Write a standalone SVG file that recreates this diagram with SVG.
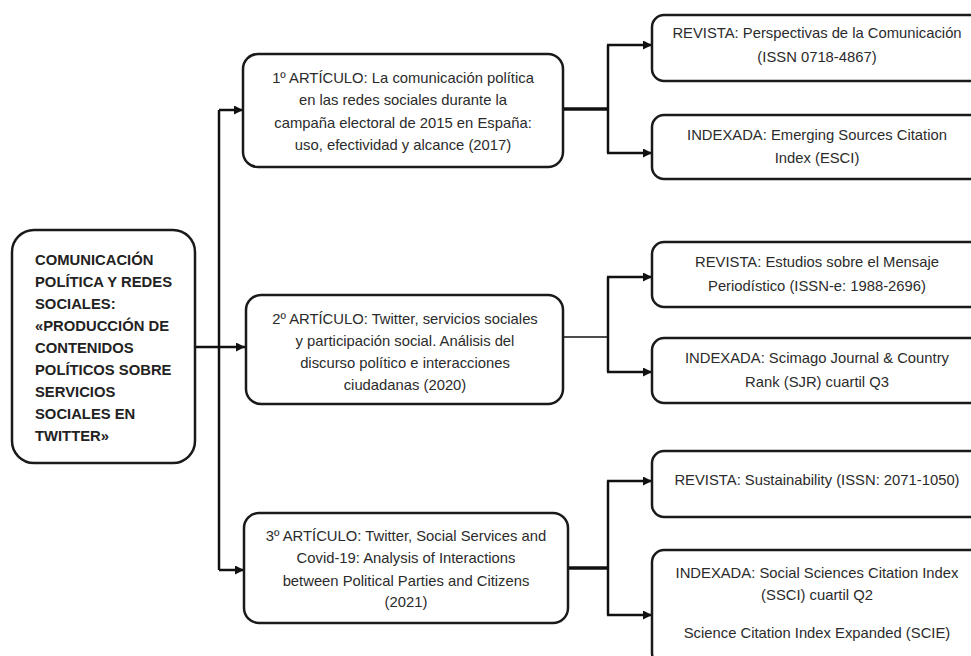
<svg xmlns="http://www.w3.org/2000/svg" width="971" height="656" viewBox="0 0 971 656">
<style>
.box{fill:#fff;stroke:#1a1a1a;stroke-width:2.5}
.t{font-family:"Liberation Sans",Arial,sans-serif;font-size:14.8px;fill:#2b2b2b;text-anchor:middle}
.b{font-family:"Liberation Sans",Arial,sans-serif;font-size:14.8px;font-weight:bold;fill:#222}
.c{fill:none;stroke:#111;stroke-width:2.5}
.ck{fill:none;stroke:#111;stroke-width:3.5}
.cn{fill:none;stroke:#111;stroke-width:1.5}
</style>
<defs>
<marker id="ah" viewBox="0 0 10 10" refX="10" refY="5" markerWidth="10" markerHeight="9" markerUnits="userSpaceOnUse" orient="auto">
<path d="M0,0 L10,5 L0,10 z" fill="#111"/>
</marker>
</defs>
<rect width="971" height="656" fill="#fff"/>
<g id="connectors">
<path class="c" d="M195,347 H245" marker-end="url(#ah)"/>
<path class="c" d="M219,110 V570"/>
<path class="c" d="M219,110 H243" marker-end="url(#ah)"/>
<path class="c" d="M219,570 H244" marker-end="url(#ah)"/>
<path class="ck" d="M563,109 H608"/>
<path class="c" d="M608,45 V153"/>
<path class="c" d="M607,45 H652" marker-end="url(#ah)"/>
<path class="c" d="M607,153 H652" marker-end="url(#ah)"/>
<path class="cn" d="M563,337 H608"/>
<path class="c" d="M608,277 V372"/>
<path class="c" d="M607,277 H652" marker-end="url(#ah)"/>
<path class="c" d="M607,372 H652" marker-end="url(#ah)"/>
<path class="ck" d="M568,568 H608"/>
<path class="c" d="M608,481 V615"/>
<path class="c" d="M607,481 H652" marker-end="url(#ah)"/>
<path class="c" d="M607,615 H652" marker-end="url(#ah)"/>
</g>
<g id="main">
<rect class="box" x="12" y="230" width="183" height="233" rx="22"/>
<text class="b" x="35" y="265">COMUNICACIÓN</text>
<text class="b" x="35" y="287">POLÍTICA Y REDES</text>
<text class="b" x="35" y="309">SOCIALES:</text>
<text class="b" x="35" y="331">«PRODUCCIÓN DE</text>
<text class="b" x="35" y="353">CONTENIDOS</text>
<text class="b" x="35" y="375">POLÍTICOS SOBRE</text>
<text class="b" x="35" y="397">SERVICIOS</text>
<text class="b" x="35" y="419">SOCIALES EN</text>
<text class="b" x="35" y="441">TWITTER»</text>
</g>
<g id="art1">
<rect class="box" x="243" y="54" width="320" height="113" rx="15"/>
<text class="t" x="403" y="83">1º ARTÍCULO: La comunicación política</text>
<text class="t" x="403" y="105">en las redes sociales durante la</text>
<text class="t" x="403" y="128">campaña electoral de 2015 en España:</text>
<text class="t" x="403" y="150">uso, efectividad y alcance (2017)</text>
</g>
<g id="art2">
<rect class="box" x="246" y="295" width="317" height="109" rx="15"/>
<text class="t" x="405" y="324">2º ARTÍCULO: Twitter, servicios sociales</text>
<text class="t" x="405" y="346">y participación social. Análisis del</text>
<text class="t" x="405" y="368">discurso político e interacciones</text>
<text class="t" x="405" y="390">ciudadanas (2020)</text>
</g>
<g id="art3">
<rect class="box" x="244" y="513" width="324" height="110" rx="15"/>
<text class="t" x="406" y="541">3º ARTÍCULO: Twitter, Social Services and</text>
<text class="t" x="406" y="563">Covid-19: Analysis of Interactions</text>
<text class="t" x="406" y="586">between Political Parties and Citizens</text>
<text class="t" x="406" y="607">(2021)</text>
</g>
<g id="rev1">
<rect class="box" x="652" y="15" width="340" height="66" rx="12"/>
<text class="t" x="817" y="38">REVISTA: Perspectivas de la Comunicación</text>
<text class="t" x="817" y="62">(ISSN 0718-4867)</text>
</g>
<g id="idx1">
<rect class="box" x="652" y="115" width="340" height="64" rx="12"/>
<text class="t" x="817" y="140">INDEXADA: Emerging Sources Citation</text>
<text class="t" x="817" y="163">Index (ESCI)</text>
</g>
<g id="rev2">
<rect class="box" x="652" y="242" width="340" height="65" rx="12"/>
<text class="t" x="817" y="267">REVISTA: Estudios sobre el Mensaje</text>
<text class="t" x="817" y="291">Periodístico (ISSN-e: 1988-2696)</text>
</g>
<g id="idx2">
<rect class="box" x="652" y="338" width="340" height="65" rx="12"/>
<text class="t" x="817" y="363">INDEXADA: Scimago Journal &amp; Country</text>
<text class="t" x="817" y="387">Rank (SJR) cuartil Q3</text>
</g>
<g id="rev3">
<rect class="box" x="652" y="451" width="340" height="66" rx="12"/>
<text class="t" x="817" y="485">REVISTA: Sustainability (ISSN: 2071-1050)</text>
</g>
<g id="idx3">
<rect class="box" x="652" y="550" width="340" height="115" rx="12"/>
<text class="t" x="817" y="578">INDEXADA: Social Sciences Citation Index</text>
<text class="t" x="817" y="600">(SSCI) cuartil Q2</text>
<text class="t" x="817" y="638">Science Citation Index Expanded (SCIE)</text>
</g>
</svg>
